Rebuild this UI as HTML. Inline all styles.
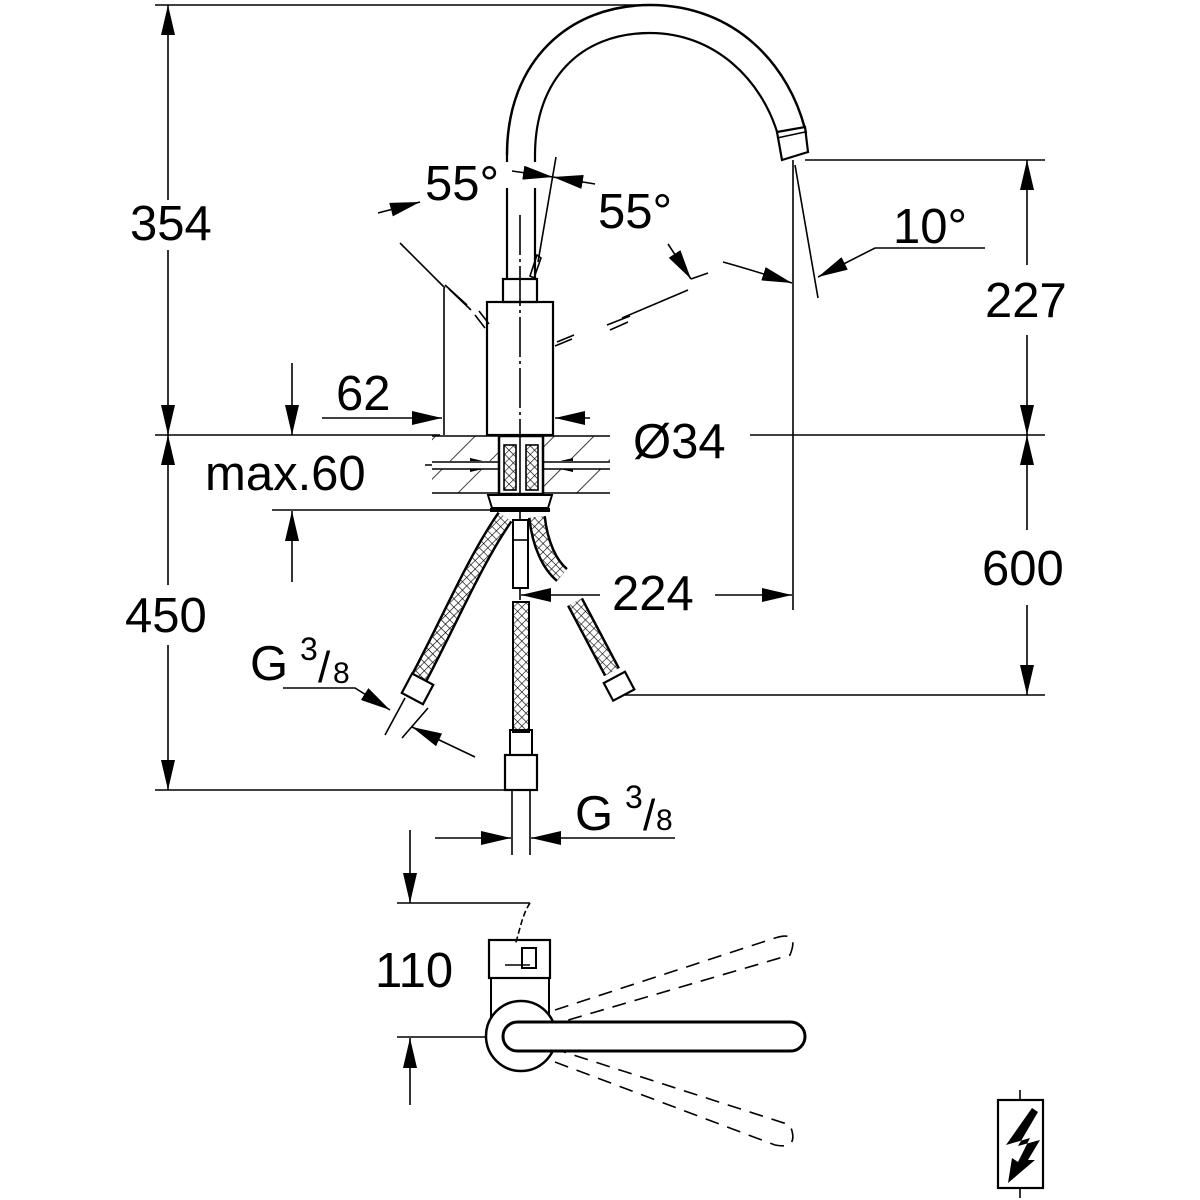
<!DOCTYPE html>
<html><head><meta charset="utf-8"><style>html,body{margin:0;padding:0;background:#fff}svg{display:block}text{font-family:"Liberation Sans",sans-serif;fill:#000}</style></head>
<body>
<svg width="1200" height="1200" viewBox="0 0 1200 1200" xmlns="http://www.w3.org/2000/svg">
<defs>
<marker id="a" markerUnits="userSpaceOnUse" markerWidth="32" markerHeight="14" refX="30" refY="7" orient="auto"><path d="M0,0 L30,7 L0,14 Z" fill="#000"/></marker>
<marker id="b" markerUnits="userSpaceOnUse" markerWidth="32" markerHeight="14" refX="0" refY="7" orient="auto"><path d="M30,0 L0,7 L30,14 Z" fill="#000"/></marker>
<pattern id="h" width="28" height="28" patternUnits="userSpaceOnUse" patternTransform="rotate(45)"><line x1="0" y1="0" x2="0" y2="28" stroke="#000" stroke-width="1.5"/></pattern>
<pattern id="x" width="6" height="6" patternUnits="userSpaceOnUse" patternTransform="rotate(45)"><path d="M0,0 V6 M0,0 H6" stroke="#000" stroke-width="1.2"/></pattern>
</defs>
<g stroke="#000" fill="none" stroke-width="1.6">
<line x1="155" y1="5" x2="640" y2="5"/>
<line x1="168" y1="5" x2="168" y2="200" marker-start="url(#b)"/>
<line x1="168" y1="250" x2="168" y2="435" marker-end="url(#a)"/>
<line x1="168" y1="435" x2="168" y2="585" marker-start="url(#b)"/>
<line x1="168" y1="645" x2="168" y2="790" marker-end="url(#a)"/>
<line x1="155" y1="435" x2="440" y2="435"/>
<line x1="750" y1="435" x2="1045" y2="435"/>
<line x1="155" y1="790" x2="510" y2="790"/>
<line x1="444" y1="288" x2="444" y2="435"/>
<line x1="322" y1="418" x2="442" y2="418" marker-end="url(#a)"/>
<line x1="590" y1="418" x2="555" y2="418" marker-end="url(#a)"/>
<line x1="292" y1="363" x2="292" y2="435" marker-end="url(#a)"/>
<line x1="292" y1="582" x2="292" y2="511" marker-end="url(#a)"/>
<line x1="272" y1="510" x2="500" y2="510"/>
<line x1="425" y1="465" x2="500" y2="465" marker-end="url(#a)"/>
<line x1="580" y1="465" x2="543" y2="465" marker-end="url(#a)"/>
<rect x="432" y="436" width="178" height="57" fill="url(#h)" stroke="none"/>
<line x1="432" y1="465" x2="610" y2="465" stroke="#fff" stroke-width="8"/>
<line x1="432" y1="436" x2="610" y2="436"/>
<line x1="432" y1="462" x2="610" y2="462"/>
<line x1="432" y1="469" x2="610" y2="469"/>
<line x1="432" y1="493" x2="610" y2="493"/>
<rect x="499" y="436" width="44" height="58" fill="#fff" stroke-width="2.5"/>
<rect x="504" y="445" width="12" height="45" fill="url(#x)"/>
<rect x="526" y="445" width="12" height="45" fill="url(#x)"/>
<line x1="520" y1="436" x2="520" y2="600"/>
<path d="M488,495 H552 L548,508 H492 Z" fill="#fff" stroke-width="2"/>
<line x1="490" y1="510" x2="550" y2="510" stroke-width="4"/>
<rect x="487" y="302" width="66" height="133" fill="#fff" stroke-width="2.2"/>
<rect x="503" y="279" width="34" height="23" stroke-width="2.2"/>
<line x1="520" y1="215" x2="520" y2="435" stroke-dasharray="40,4,3,4"/>
<line x1="507" y1="155" x2="507" y2="162" stroke-width="2.2"/>
<line x1="507" y1="188" x2="507" y2="279" stroke-width="2.2"/>
<line x1="535" y1="155" x2="535" y2="162" stroke-width="2.2"/>
<line x1="535" y1="188" x2="535" y2="279" stroke-width="2.2"/>
<path d="M507,155 C507,60 570,5 650,5 C735,5 790,65 806,133" stroke-width="2.5"/>
<path d="M535,155 C535,80 580,33 650,33 C715,33 762,80 778,135" stroke-width="2.2"/>
<path d="M777,132 L805,127 L808,152 L782,160 Z" fill="#fff" stroke-width="2.2"/>
<line x1="777" y1="138" x2="805" y2="132"/>
<line x1="556" y1="157" x2="538" y2="262"/>
<path d="M537,255 L541,258 L534,278 L530,276 Z"/>
<line x1="512" y1="171" x2="553" y2="177" marker-end="url(#a)"/>
<line x1="595" y1="184" x2="553" y2="177" marker-end="url(#a)"/>
<line x1="378" y1="213" x2="420" y2="202" marker-end="url(#a)"/>
<line x1="400" y1="243" x2="445" y2="288"/>
<path d="M445,285 L467,305 M449,289 L471,310 M475,315 L485,328 M479,311 L489,324"/>
<line x1="668" y1="244" x2="691" y2="279" marker-end="url(#a)"/>
<line x1="691" y1="279" x2="708" y2="273"/>
<path d="M622,318 L688,290 M607,325 L630,316 M610,330 L628,322 M555,346 L572,339 M557,342 L574,335"/>
<line x1="793" y1="160" x2="793" y2="610"/>
<line x1="805" y1="160" x2="1045" y2="160"/>
<line x1="620" y1="695" x2="1045" y2="695"/>
<line x1="1027" y1="160" x2="1027" y2="265" marker-start="url(#b)"/>
<line x1="1027" y1="335" x2="1027" y2="435" marker-end="url(#a)"/>
<line x1="1027" y1="435" x2="1027" y2="530" marker-start="url(#b)"/>
<line x1="1027" y1="605" x2="1027" y2="695" marker-end="url(#a)"/>
<line x1="795" y1="165" x2="818" y2="298"/>
<path d="M985,248 H875 L818,277" marker-end="url(#a)"/>
<path d="M723,262 Q752,270 792,283" marker-end="url(#a)"/>
<line x1="600" y1="595" x2="521" y2="595" marker-end="url(#a)"/>
<line x1="715" y1="595" x2="792" y2="595" marker-end="url(#a)"/>
<path d="M505,517 C475,560 450,620 418,680" stroke="#000" stroke-width="18"/>
<path d="M505,517 C475,560 450,620 418,680" stroke="#fff" stroke-width="13"/>
<path d="M505,517 C475,560 450,620 418,680" stroke="url(#x)" stroke-width="13"/>
<path d="M537,517 C540,545 550,565 562,575" stroke="#000" stroke-width="18"/>
<path d="M537,517 C540,545 550,565 562,575" stroke="#fff" stroke-width="13"/>
<path d="M537,517 C540,545 550,565 562,575" stroke="url(#x)" stroke-width="13"/>
<rect x="513" y="520" width="15" height="68" fill="#fff" stroke-width="2"/>
<line x1="513" y1="540" x2="528" y2="540"/>
<rect x="513" y="602" width="16" height="130" fill="url(#x)" stroke-width="2"/>
<rect x="510" y="730" width="22" height="25" stroke-width="2"/>
<rect x="505" y="755" width="32" height="35" fill="#fff" stroke-width="2.2"/>
<line x1="512" y1="790" x2="512" y2="855"/>
<line x1="530" y1="790" x2="530" y2="855"/>
<path d="M575,602 L612,672" stroke="#000" stroke-width="18"/>
<path d="M575,602 L612,672" stroke="#fff" stroke-width="13"/>
<path d="M575,602 L612,672" stroke="url(#x)" stroke-width="13"/>
<g transform="translate(620,688) rotate(-28)"><rect x="-12" y="-12" width="24" height="20" fill="#fff" stroke-width="2.2"/></g>
<g transform="translate(418,688) rotate(28)"><rect x="-12" y="-10" width="24" height="22" fill="#fff" stroke-width="2.2"/></g>
<line x1="405" y1="698" x2="385" y2="735"/>
<line x1="428" y1="708" x2="402" y2="738"/>
<path d="M283,688 H355 L390,710" marker-end="url(#a)"/>
<line x1="475" y1="757" x2="412" y2="727" marker-end="url(#a)"/>
<line x1="435" y1="838" x2="511" y2="838" marker-end="url(#a)"/>
<line x1="675" y1="838" x2="531" y2="838" marker-end="url(#a)"/>
<line x1="410" y1="830" x2="410" y2="903" marker-end="url(#a)"/>
<line x1="410" y1="1105" x2="410" y2="1038" marker-end="url(#a)"/>
<line x1="397" y1="903" x2="530" y2="903"/>
<line x1="397" y1="1037" x2="520" y2="1037"/>
<path d="M530,903 C522,915 520,930 515,945" stroke-dasharray="6,3"/>
<rect x="489" y="940" width="61" height="38" stroke-width="2.2"/>
<rect x="491" y="978" width="58" height="38" stroke-width="2"/>
<rect x="522" y="948" width="14" height="20" stroke-width="2"/>
<path d="M505,965 H530"/>
<circle cx="521" cy="1036" r="35" fill="#fff" stroke-width="2.5"/>
<path d="M555,1010 L775,938 Q800,930 790,955 L558,1023" stroke-dasharray="14,9"/>
<path d="M555,1062 L775,1145 Q800,1150 790,1125 L558,1050" stroke-dasharray="14,9"/>
<rect x="503" y="1022" width="302" height="29" rx="14.5" fill="#fff" stroke-width="3"/>
<rect x="998" y="1100" width="45" height="88" stroke-width="2.2"/>
<line x1="1020" y1="1090" x2="1020" y2="1100"/>
<line x1="1020" y1="1188" x2="1020" y2="1198"/>
</g>
<path d="M1032,1108 L1006,1145 L1030,1138 L1018,1162 L1012,1158 L1008,1183 L1035,1160 L1028,1160 L1040,1140 L1018,1146 L1038,1112 Z" fill="#000"/>
<g font-size="49">
<text x="130" y="240">354</text>
<text x="125" y="632">450</text>
<text x="336" y="410">62</text>
<text x="205" y="490">max.60</text>
<text x="633" y="458">Ø34</text>
<text x="425" y="200">55°</text>
<text x="598" y="228">55°</text>
<text x="893" y="243">10°</text>
<text x="985" y="317">227</text>
<text x="982" y="585">600</text>
<text x="612" y="610">224</text>
<text x="375" y="987">110</text>
<text x="250" y="680">G</text>
<text x="575" y="830">G</text>
</g>
<g font-size="32">
<text x="300" y="660">3</text><text x="625" y="808">3</text>
</g>
<g font-size="44"><text x="318" y="682">/</text><text x="643" y="830">/</text></g>
<g font-size="30"><text x="333" y="683">8</text><text x="656" y="830">8</text></g>
</svg>
</body></html>
